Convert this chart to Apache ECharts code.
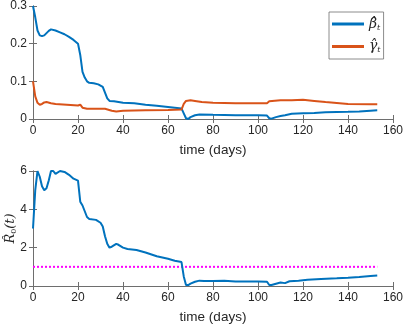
<!DOCTYPE html>
<html>
<head>
<meta charset="utf-8">
<script src="https://cdn.jsdelivr.net/npm/echarts@6/dist/echarts.min.js"></script>
<style>
  html, body { margin: 0; padding: 0; background: #fff; }
  #chart { width: 405px; height: 325px; }
</style>
</head>
<body>
<div id="chart"></div>
<script>
// beta / gamma estimates (top panel)
const betaDays = [0,1,2,3,4,5,6,7,8,10,12,14,16,18,20,21,22,23,24,25,27,29,31,32,33,34,36,40,45,50,55,60,66,67,68,69,70,72,74,80,90,100,104,105,106,108,110,112,115,120,125,130,140,145,150,153];
const betaVals = [0.3,0.27,0.235,0.222,0.22,0.222,0.228,0.234,0.238,0.235,0.23,0.225,0.218,0.21,0.2,0.17,0.125,0.11,0.1,0.096,0.095,0.092,0.085,0.07,0.055,0.048,0.047,0.043,0.042,0.038,0.035,0.032,0.028,0.015,0.002,0.0,0.005,0.01,0.012,0.011,0.01,0.01,0.009,0.002,0.001,0.005,0.008,0.01,0.014,0.015,0.016,0.018,0.019,0.02,0.022,0.023];

const gammaDays = [0,1,2,3,4,5,6,8,10,15,20,21,22,24,30,32,35,37,40,50,60,66,67,68,70,72,75,80,90,100,104,105,110,115,120,125,130,140,150,153];
const gammaVals = [0.1,0.06,0.043,0.038,0.04,0.044,0.045,0.042,0.04,0.038,0.036,0.038,0.03,0.027,0.027,0.027,0.022,0.02,0.022,0.023,0.024,0.025,0.04,0.048,0.05,0.048,0.045,0.043,0.042,0.042,0.042,0.047,0.05,0.05,0.051,0.048,0.045,0.04,0.039,0.039];

// R0 estimate (bottom panel)
const r0Days = [0,1,2,3,4,5,6,7,8,9,10,12,14,16,18,20,21,22,23,24,25,28,30,31,32,33,34,35,37,38,40,42,46,50,55,60,63,66,67,68,69,70,72,74,76,80,85,90,95,100,104,105,106,108,110,112,114,118,122,128,135,140,145,150,153];
const r0Vals = [3.0,5.0,6.0,5.7,5.2,5.0,5.1,5.5,6.0,6.0,5.85,6.0,5.95,5.8,5.6,5.5,4.4,4.2,3.9,3.6,3.5,3.45,3.3,3.1,2.6,2.2,2.0,2.05,2.2,2.15,2.0,1.93,1.88,1.75,1.55,1.42,1.32,1.25,0.5,0.05,0.05,0.12,0.22,0.28,0.26,0.26,0.27,0.23,0.23,0.24,0.22,0.05,0.05,0.12,0.18,0.15,0.25,0.28,0.32,0.36,0.4,0.43,0.47,0.52,0.55];
const thresholdDays = [0,153];
const thresholdVals = [1,1];

const xTicks = { min: 0, max: 160, interval: 20 };
const topY = { min: 0, max: 0.3, interval: 0.1 };
const botY = { min: 0, max: 6, interval: 2 };

const pair = (xs, ys) => xs.map((d, i) => [d, ys[i]]);

const textCol = '#262626';
const lineCol = '#6e6e6e';
const font = 'Liberation Sans';

const baseAxis = (extra) => Object.assign({
  type: 'value',
  axisLine: { show: true, lineStyle: { color: lineCol, width: 1 } },
  axisTick: { show: true, inside: true, length: 4, lineStyle: { color: lineCol } },
  axisLabel: { color: textCol, fontSize: 12, fontFamily: font, margin: 6 },
  splitLine: { show: false }
}, extra);

const hidden = { axisLabel: { show: false } };
const xName = { name: 'time (days)', nameLocation: 'middle', nameGap: 24,
  nameTextStyle: { color: textCol, fontSize: 13.5, fontFamily: font } };

const chart = echarts.init(document.getElementById('chart'));
chart.setOption({
  animation: false,
  grid: [
    { left: 33, right: 12, top: 6, height: 113, show: false, outerBoundsMode: 'none', containLabel: false },
    { left: 33, right: 12, top: 171, height: 115, show: false, outerBoundsMode: 'none', containLabel: false }
  ],
  xAxis: [
    baseAxis(Object.assign({ gridIndex: 0, position: 'bottom' }, xName, xTicks)),
    baseAxis(Object.assign({ gridIndex: 0, position: 'top' }, xTicks, hidden)),
    baseAxis(Object.assign({ gridIndex: 1, position: 'bottom' }, xName, xTicks)),
    baseAxis(Object.assign({ gridIndex: 1, position: 'top' }, xTicks, hidden))
  ],
  yAxis: [
    baseAxis(Object.assign({ gridIndex: 0, position: 'left' }, topY)),
    baseAxis(Object.assign({ gridIndex: 0, position: 'right' }, topY, hidden)),
    baseAxis(Object.assign({ gridIndex: 1, position: 'left', name: '{it|R̂}{sub|0}{it|(t)}', nameLocation: 'middle', nameGap: 15,
      nameMoveOverlap: false,
      nameTextStyle: { color: textCol, fontFamily: font,
        rich: {
          it: { fontSize: 13, fontStyle: 'italic', fontFamily: 'DejaVu Serif', color: textCol },
          sub: { fontSize: 8, fontFamily: 'DejaVu Serif', color: textCol, padding: [6, 0, 0, 0] }
        } } }, botY)),
    baseAxis(Object.assign({ gridIndex: 1, position: 'right' }, botY, hidden))
  ],
  legend: {
    show: true,
    left: 329, top: 12, width: 57,
    orient: 'vertical',
    data: ['beta', 'gamma'],
    itemWidth: 32, itemHeight: 3, itemGap: 8,
    padding: [5, 3, 5, 3],
    borderColor: lineCol, borderWidth: 0.8, backgroundColor: '#fff',
    icon: 'rect',
    formatter: (n) => n === 'beta' ? '{it|β̂}{sub|t}' : '{it|γ̂}{sub|t}',
    textStyle: {
      rich: {
        it: { fontSize: 14, fontStyle: 'italic', fontFamily: 'DejaVu Serif', color: textCol },
        sub: { fontSize: 8, fontStyle: 'italic', fontFamily: 'DejaVu Serif', color: textCol, padding: [7, 0, 0, 0] }
      }
    }
  },
  series: [
    { name: 'beta', type: 'line', xAxisIndex: 0, yAxisIndex: 0, data: pair(betaDays, betaVals),
      showSymbol: false, lineStyle: { color: '#0072BD', width: 2 }, itemStyle: { color: '#0072BD' } },
    { name: 'gamma', type: 'line', xAxisIndex: 0, yAxisIndex: 0, data: pair(gammaDays, gammaVals),
      showSymbol: false, lineStyle: { color: '#D95319', width: 2 }, itemStyle: { color: '#D95319' } },
    { name: 'threshold', type: 'line', xAxisIndex: 2, yAxisIndex: 2, data: pair(thresholdDays, thresholdVals),
      showSymbol: false, lineStyle: { color: '#FF00FF', width: 2, type: [2, 2] } },
    { name: 'R0', type: 'line', xAxisIndex: 2, yAxisIndex: 2, data: pair(r0Days, r0Vals),
      showSymbol: false, lineStyle: { color: '#0072BD', width: 2 } }
  ]
});
</script>
</body>
</html>
